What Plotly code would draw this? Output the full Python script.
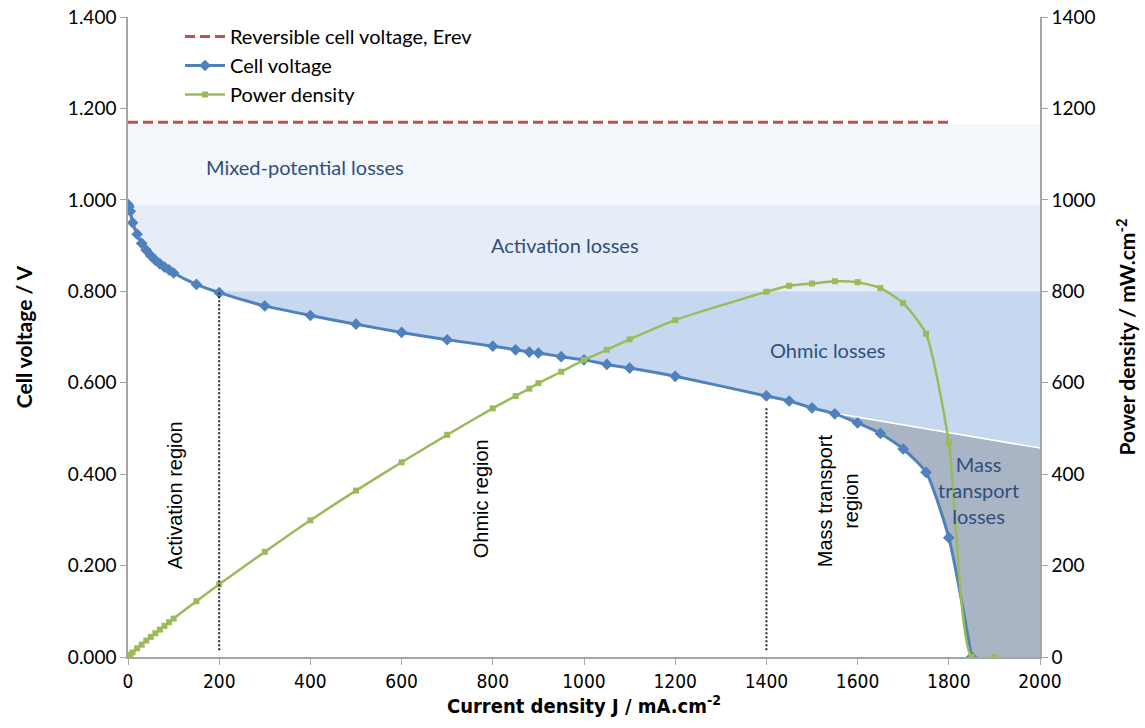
import plotly.graph_objects as go

# ---------------- data ----------------
J_cell = [0, 2, 5, 10, 20, 30, 40, 50, 60, 70, 80, 90, 100, 150, 200, 300, 400, 500, 600,
          700, 800, 850, 880, 900, 950, 1000, 1050, 1100, 1200, 1400, 1450, 1500, 1550,
          1600, 1650, 1700, 1750, 1800, 1850]
V_cell = [0.990, 0.985, 0.975, 0.950, 0.925, 0.905, 0.890, 0.878, 0.868, 0.860, 0.853, 0.847,
          0.840, 0.815, 0.797, 0.768, 0.747, 0.728, 0.710, 0.694, 0.680, 0.672, 0.667, 0.665,
          0.657, 0.650, 0.640, 0.632, 0.614, 0.571, 0.560, 0.545, 0.532, 0.512, 0.489, 0.455,
          0.404, 0.261, 0.000]

J_power = [0, 5, 10, 20, 30, 40, 50, 60, 70, 80, 90, 100, 150, 200, 300, 400, 500, 600, 700,
           800, 850, 880, 900, 950, 1000, 1050, 1100, 1200, 1400, 1450, 1500, 1550, 1600,
           1650, 1700, 1750, 1800, 1850, 1900]
P_power = [0, 5, 10, 19, 27, 36, 44, 52, 60, 68, 76, 84, 122, 159, 230, 299, 364, 426, 486,
           544, 571, 587, 599, 624, 650, 672, 695, 737, 799, 812, 817, 822, 820, 807, 774,
           707, 470, 0, 0]

J_rev = [0, 1800]
E_rev = [1.17, 1.17]

# loss-region boundaries (V) and region limits (mA/cm2)
MIXED_TOP, MIXED_BOTTOM = 1.165, 0.99
OHMIC_TOP = 0.80
J_ACT_END, J_OHM_END = 200, 1400
MT_LINE_J = [1550, 2000]
MT_LINE_V = [0.533, 0.457]
J_LIMIT = 1850
J_MAX = 2000

# colours
C_BLUE = "#4f81bd"
C_GREEN = "#9bbb59"
C_RED = "#c0504d"
C_MIXED = "#f3f6fa"
C_ACT = "#e6edf6"
C_OHM = "#c5d8ef"
C_MT = "#a9b4c4"
C_TXT = "#2f4f80"
FONT = "Lato, Liberation Sans, Arial, sans-serif"
FONT_ARIAL = "Liberation Sans, Arial, sans-serif"
FONT_NARROW = "Liberation Sans Narrow, DejaVu Sans Condensed, Arial Narrow, sans-serif"

fig = go.Figure()

# grey mass-transport polygon
fig.add_trace(go.Scatter(
    x=[MT_LINE_J[0], MT_LINE_J[1], J_MAX, J_LIMIT, MT_LINE_J[0]],
    y=[MT_LINE_V[0], MT_LINE_V[1], -0.02, 0, MT_LINE_V[0]],
    mode="lines", fill="toself", fillcolor=C_MT, line=dict(color=C_MT, width=0),
    showlegend=False, hoverinfo="skip"))
fig.add_trace(go.Scatter(
    x=MT_LINE_J, y=MT_LINE_V, mode="lines", line=dict(color="white", width=1.5),
    showlegend=False, hoverinfo="skip"))

# white area below the polarisation curve
fig.add_trace(go.Scatter(
    x=J_cell, y=V_cell, mode="lines", line=dict(width=0, shape="spline", color="white"),
    fill="tozeroy", fillcolor="white", showlegend=False, hoverinfo="skip"))

# series
fig.add_trace(go.Scatter(
    x=J_rev, y=E_rev, mode="lines", name="Reversible cell voltage, Erev",
    line=dict(color=C_RED, width=3, dash="10px,5px")))
fig.add_trace(go.Scatter(
    x=J_cell, y=V_cell, mode="lines+markers", name="Cell voltage",
    line=dict(color=C_BLUE, width=3, shape="spline", smoothing=0.6),
    marker=dict(symbol="diamond", size=9, color=C_BLUE)))
fig.add_trace(go.Scatter(
    x=J_power, y=P_power, mode="lines+markers", name="Power density", yaxis="y2",
    line=dict(color=C_GREEN, width=2.5, shape="spline", smoothing=0.6),
    marker=dict(symbol="square", size=6, color=C_GREEN)))

shapes = [
    dict(type="rect", xref="x", yref="y", x0=0, x1=J_MAX, y0=MIXED_BOTTOM, y1=MIXED_TOP,
         fillcolor=C_MIXED, line=dict(width=0), layer="below"),
    dict(type="rect", xref="x", yref="y", x0=0, x1=J_MAX, y0=OHMIC_TOP, y1=MIXED_BOTTOM,
         fillcolor=C_ACT, line=dict(width=0), layer="below"),
    dict(type="rect", xref="x", yref="y", x0=J_ACT_END, x1=J_MAX, y0=0, y1=OHMIC_TOP,
         fillcolor=C_OHM, line=dict(width=0), layer="below"),
    dict(type="line", xref="x", yref="y", x0=J_ACT_END, x1=J_ACT_END, y0=0.015, y1=0.797,
         line=dict(color="#222222", width=2, dash="2px,2px")),
    dict(type="line", xref="x", yref="y", x0=J_OHM_END, x1=J_OHM_END, y0=0.015, y1=0.547,
         line=dict(color="#222222", width=2, dash="2px,2px")),
]

LOSS_FONT = dict(family=FONT, size=20, color=C_TXT)
REGION_FONT = dict(family=FONT_ARIAL, size=20, color="black")
annotations = [
    dict(x=388, y=1.072, text="Mixed-potential losses", showarrow=False, font=LOSS_FONT),
    dict(x=958, y=0.901, text="Activation losses", showarrow=False, font=LOSS_FONT),
    dict(x=1535, y=0.671, text="Ohmic losses", showarrow=False, font=LOSS_FONT),
    dict(x=1865, y=0.365, text="Mass<br>transport<br>losses", showarrow=False, font=LOSS_FONT),
    dict(x=103, y=0.354, text="Activation region", textangle=-90, showarrow=False,
         font=REGION_FONT),
    dict(x=776, y=0.347, text="Ohmic region", textangle=-90, showarrow=False,
         font=REGION_FONT),
    dict(x=1557, y=0.343, text="Mass transport<br>region", textangle=-90, showarrow=False,
         font=REGION_FONT),
]

axis_common = dict(showgrid=False, zeroline=False, showline=True, linecolor="#a6a6a6",
                   linewidth=1.5, ticks="outside", tickcolor="#a6a6a6", ticklen=6,
                   automargin=False)

fig.update_layout(
    width=1145, height=728,
    margin=dict(l=128, r=105, t=17, b=71),
    plot_bgcolor="white", paper_bgcolor="white",
    font=dict(family=FONT, color="black"),
    shapes=shapes, annotations=annotations,
    xaxis=dict(range=[0, J_MAX], dtick=200, tick0=0,
               tickfont=dict(family=FONT_NARROW, size=19, color="black"),
               title=dict(text="<b>Current density J / mA.cm<sup>-2</sup></b>",
                          font=dict(family=FONT_NARROW, size=20), standoff=6),
               **axis_common),
    yaxis=dict(range=[0, 1.4], dtick=0.2, tickformat=".3f",
               tickfont=dict(family=FONT, size=19, color="black"),
               title=dict(text="<b>Cell voltage / V</b>", font=dict(size=21), standoff=30),
               **axis_common),
    yaxis2=dict(range=[0, 1400], dtick=200, overlaying="y", side="right",
                tickfont=dict(family=FONT, size=19, color="black"),
                title=dict(text="<b>Power density / mW.cm<sup>-2</sup></b>",
                           font=dict(size=21), standoff=26),
                **axis_common),
    legend=dict(x=0.057, y=1.0, xanchor="left", yanchor="top", bgcolor="rgba(0,0,0,0)",
                font=dict(size=20), itemwidth=40, tracegroupgap=0),
)

fig.write_html("out.html")
